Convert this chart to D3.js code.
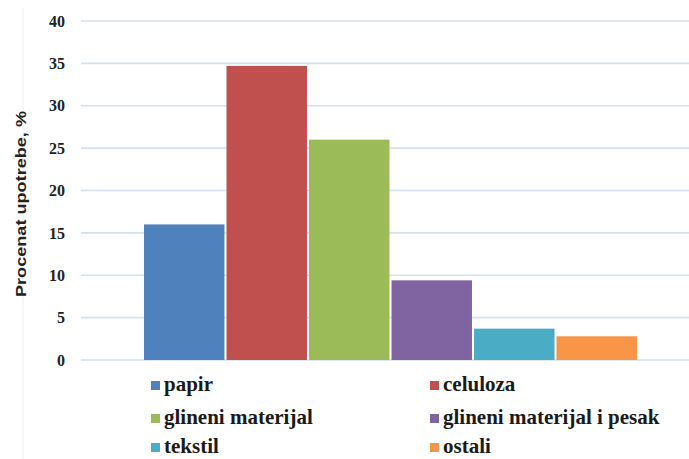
<!DOCTYPE html>
<html>
<head>
<meta charset="utf-8">
<script src="https://cdn.jsdelivr.net/npm/d3@7/dist/d3.min.js"></script>
<style>
  html, body { margin: 0; padding: 0; background: #fff; }
  svg { display: block; }
</style>
</head>
<body>
<svg id="chart" width="689" height="459"></svg>
<script>
// Share of use by material (%)
const categories = ["papir", "celuloza", "glineni materijal", "glineni materijal i pesak", "tekstil", "ostali"];
const values = [16, 34.7, 26, 9.4, 3.7, 2.8];
const colors = ["#4f81bd", "#c0504d", "#9bbb59", "#8064a2", "#4bacc6", "#f79646"];
const yTicks = [0, 5, 10, 15, 20, 25, 30, 35, 40];
const yTitle = "Procenat upotrebe, %";

const serifFont = "Liberation Serif";
const sansFont = "Liberation Sans";

const svg = d3.select("#chart");
const plot = { left: 81, right: 689, top: 21, bottom: 360 };

const y = d3.scaleLinear().domain([0, 40]).range([plot.bottom, plot.top]);
const x = d3.scaleBand().domain(categories).range([144, 637]).paddingInner(0.025).paddingOuter(0);

// faint frame edge on the left
svg.append("line")
  .attr("x1", 23).attr("x2", 23)
  .attr("y1", 8).attr("y2", 459)
  .attr("stroke", "#f0f0f0")
  .attr("stroke-width", 1);

// horizontal gridlines
svg.append("g")
  .selectAll("line")
  .data(yTicks)
  .join("line")
  .attr("x1", plot.left)
  .attr("x2", plot.right)
  .attr("y1", d => y(d))
  .attr("y2", d => y(d))
  .attr("stroke", "#d6e1f0")
  .attr("stroke-width", 1.6);

// y axis tick labels
const yAxis = d3.axisLeft(y).tickValues(yTicks).tickSize(0).tickPadding(0).tickFormat(d3.format("d"));
const ya = svg.append("g").attr("transform", "translate(65,0)").call(yAxis);
ya.select(".domain").remove();
ya.selectAll("text")
  .style("font-family", serifFont)
  .style("font-weight", "bold")
  .style("font-size", "16px")
  .attr("fill", "#222");

// y axis title
svg.append("text")
  .attr("transform", "translate(26,204) rotate(-90)")
  .attr("text-anchor", "middle")
  .style("font-family", sansFont)
  .style("font-weight", "bold")
  .style("font-size", "15px")
  .attr("textLength", 186)
  .attr("lengthAdjust", "spacingAndGlyphs")
  .attr("fill", "#222")
  .text(yTitle);

// bars
svg.append("g")
  .selectAll("rect")
  .data(categories)
  .join("rect")
  .attr("x", d => x(d))
  .attr("width", x.bandwidth())
  .attr("y", (d, i) => y(values[i]))
  .attr("height", (d, i) => y(0) - y(values[i]))
  .attr("fill", (d, i) => colors[i]);

// legend in two columns
const legendCols = [151, 430];
const legendRows = [385, 418, 447];
const legend = svg.append("g")
  .selectAll("g")
  .data(categories)
  .join("g")
  .attr("transform", (d, i) => `translate(${legendCols[i % 2]},${legendRows[Math.floor(i / 2)]})`);

legend.append("rect")
  .attr("x", 0)
  .attr("y", -4)
  .attr("width", 9)
  .attr("height", 9)
  .attr("fill", (d, i) => colors[i]);

legend.append("text")
  .attr("x", 13)
  .attr("y", 0)
  .attr("dy", "0.3em")
  .style("font-family", serifFont)
  .style("font-weight", "bold")
  .style("font-size", "21px")
  .attr("fill", "#1a1a1a")
  .text(d => d);
</script>
</body>
</html>
